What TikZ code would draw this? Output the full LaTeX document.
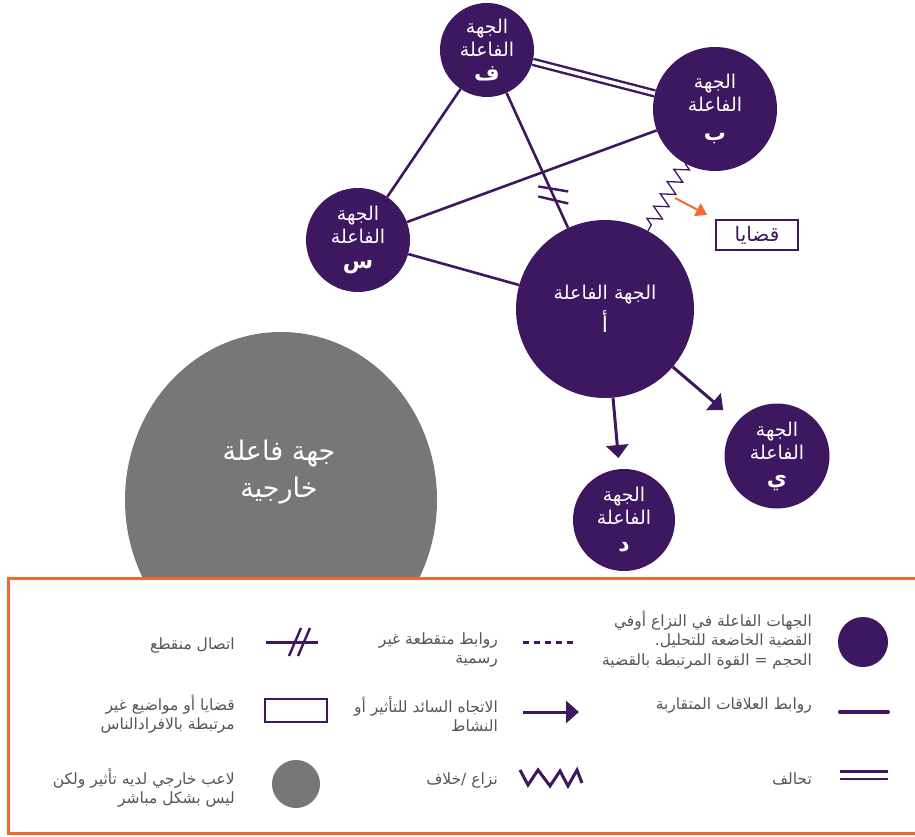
\documentclass[tikz,border=0pt]{standalone}
\usepackage{fontspec}
\usetikzlibrary{arrows.meta,decorations.pathmorphing,shapes.geometric}
\newfontfamily\arabicfont[Script=Arabic]{DejaVu Sans}
\TeXXeTstate=1
\newcommand{\artxt}[1]{\beginR #1\endR}
\definecolor{pur}{HTML}{3D1760}
\definecolor{org}{HTML}{F46A2E}
\definecolor{gry}{HTML}{777777}
\definecolor{txtg}{HTML}{555555}
\begin{document}
\begin{tikzpicture}[x=1pt,y=-1pt,
  actor/.style={circle, fill=pur, text=white, inner sep=0pt, align=center,
    font=\arabicfont\fontsize{19}{23}\selectfont},
  rel/.style={draw=pur, line width=2.6pt},
  ally/.style={draw=pur, line width=2.4pt, double=white, double distance=3.6pt},
  conflict/.style={draw=pur, line width=1.3pt, decorate,
    decoration={zigzag, segment length=14pt, amplitude=7pt}},
  infl/.style={draw=pur, line width=3pt, -{Triangle[width=22pt,length=13pt]}},
  legtext/.style={anchor=east, align=right, text=txtg, inner sep=0pt,
    font=\arabicfont\fontsize{15.5}{19.5}\selectfont},
  legsym/.style={draw=pur, line width=3pt},
]
\useasboundingbox (0,0) rectangle (915,837);
\clip (0,0) rectangle (915,837);

% external actor
\node[ellipse, fill=gry, minimum width=312pt, minimum height=336pt, inner sep=0pt] (ext) at (281,500) {};
\node[text=white, align=center, font=\arabicfont\fontsize{27}{37}\selectfont] (exttxt) at (279,472)
  {\artxt{جهة فاعلة}\\\artxt{خارجية}};

% actors
\node[actor, minimum size=94pt] (f) at (487,50)
  {\artxt{الجهة}\\\artxt{الفاعلة}\\[1pt]{\fontsize{22}{26}\selectfont\bfseries\artxt{ف}}};
\node[actor, minimum size=124pt] (b) at (715,109)
  {\artxt{الجهة}\\\artxt{الفاعلة}\\[6pt]{\fontsize{22}{32}\selectfont\bfseries\artxt{ب}}};
\node[actor, minimum size=104pt] (s) at (358,240)
  {\artxt{الجهة}\\\artxt{الفاعلة}\\[2pt]{\fontsize{22}{27}\selectfont\bfseries\artxt{س}}};
\node[actor, minimum size=178pt] (a) at (605,309)
  {\artxt{الجهة الفاعلة}\\[5pt]{\fontsize{22}{29}\selectfont\artxt{أ}}};
\node[actor, minimum size=105pt] (y) at (777,456)
  {\artxt{الجهة}\\\artxt{الفاعلة}\\[3pt]{\fontsize{22}{27}\selectfont\bfseries\artxt{ي}}};
\node[actor, minimum size=102pt] (d) at (624,520)
  {\artxt{الجهة}\\\artxt{الفاعلة}\\[4pt]{\fontsize{22}{27}\selectfont\bfseries\artxt{د}}};

% issue box
\node[draw=pur, line width=2pt, minimum width=82pt, minimum height=30pt, inner sep=0pt,
  text=pur, font=\arabicfont\fontsize{20}{22}\selectfont] (issue) at (757,235) {\artxt{قضايا}};

% connectors
\draw[ally] (f) -- (b);
\draw[rel] (f) -- (s);
\draw[rel] (s) -- (b);
\draw[rel] (s) -- (a);
\draw[rel] (f) -- (a) coordinate[pos=0.76] (bk);
\draw[draw=pur, line width=2.4pt] (bk) ++(-15,-9) -- ++(30,5);
\draw[draw=pur, line width=2.4pt] (bk) ++(-15,1) -- ++(30,7);
\draw[conflict] (b) -- (a);
\draw[infl, shorten >=11pt] (a) -- (d);
\draw[infl, shorten >=18pt] (a) -- (y);
\coordinate (oa) at (675,198);
\draw[draw=org, line width=2pt, -{Triangle[width=14pt,length=11pt]}, shorten >=9pt] (oa) -- (issue.north west);

% legend frame
\draw[draw=org, line width=3pt, fill=white] (8,578) rectangle (930,833);

% legend right column
\fill[pur] (863,642) circle (25pt);
\node[legtext] (l1) at (812,640)
  {\artxt{الجهات الفاعلة في النزاع أوفي}\\\artxt{القضية الخاضعة للتحليل.}\\\artxt{الحجم = القوة المرتبطة بالقضية}};
\draw[legsym, line width=4pt, line cap=round] (840,712) -- (888,712);
\node[legtext] (l2) at (812,705) {\artxt{روابط العلاقات المتقاربة}};
\draw[draw=pur, line width=2.2pt, double=white, double distance=5pt] (840,775) -- (888,775);
\node[legtext] (l3) at (812,779) {\artxt{تحالف}};

% legend middle column
\draw[legsym, dash pattern=on 6pt off 5pt] (523,642) -- (577,642);
\node[legtext] (l4) at (498,650) {\artxt{روابط متقطعة غير}\\\artxt{رسمية}};
\draw[infl] (523,712) -- (579,712);
\node[legtext] (l5) at (498,714) {\artxt{الاتجاه السائد للتأثير أو}\\\artxt{النشاط}};
\draw[legsym, line join=miter] (520,770) -- (528,785) -- (538,770) -- (550,786) -- (560,771) -- (568,786) -- (577,770) -- (582,783);
\node[legtext] (l6) at (498,780) {\artxt{نزاع /خلاف}};

% legend left column
\draw[legsym] (266,642) -- (318,642);
\draw[draw=pur, line width=2.4pt] (289,656) -- (301,628);
\draw[draw=pur, line width=2.4pt] (298,656) -- (310,628);
\node[legtext] (l7) at (235,645) {\artxt{اتصال منقطع}};
\draw[draw=pur, line width=1.6pt] (265,699) rectangle (327,722);
\node[legtext] (l8) at (235,714) {\artxt{قضايا أو مواضيع غير}\\\artxt{مرتبطة بالافرادالناس}};
\fill[gry] (296,784) circle (24pt);
\node[legtext] (l9) at (235,788) {\artxt{لاعب خارجي لديه تأثير ولكن}\\\artxt{ليس بشكل مباشر}};
\end{tikzpicture}
\end{document}
